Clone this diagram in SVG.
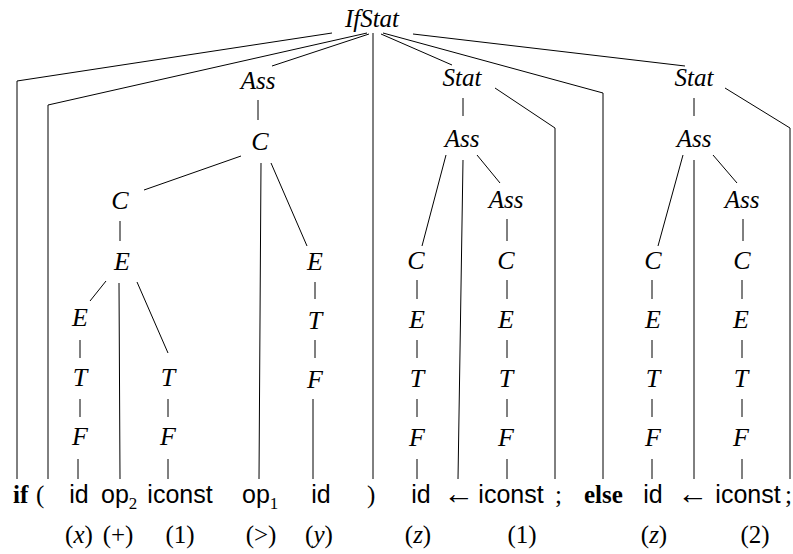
<svg xmlns="http://www.w3.org/2000/svg" width="793" height="554" viewBox="0 0 793 554">
<style>
.n{font-family:"Liberation Serif",serif;font-style:italic;font-size:25px;text-anchor:middle;fill:#000}
.m{font-family:"Liberation Serif",serif;font-style:italic;font-size:26px;text-anchor:middle;fill:#000}
.sf{font-family:"Liberation Sans",sans-serif;font-size:25px;text-anchor:middle;fill:#000}
.kw{font-family:"Liberation Serif",serif;font-weight:bold;font-size:25px;fill:#000}
.rm{font-family:"Liberation Serif",serif;font-size:25px;fill:#000}
.b{font-family:"Liberation Serif",serif;font-size:25px;text-anchor:middle;fill:#000}
.ar{font-family:"Liberation Serif",serif;font-size:31px;text-anchor:middle;fill:#000}
.i{font-style:italic}
.sub{font-family:"Liberation Serif",serif;font-size:17px}
.e{stroke:#000;stroke-width:1;fill:none}
</style>
<g id="connectors">
<polyline class="e" points="332,33 17,81 17,479"/>
<polyline class="e" points="367,33 48,105 48,479"/>
<line class="e" x1="369" y1="34" x2="272" y2="66"/>
<line class="e" x1="373" y1="33" x2="373" y2="479"/>
<line class="e" x1="381" y1="34" x2="452" y2="65"/>
<polyline class="e" points="383,33 603,93 603,479"/>
<line class="e" x1="413" y1="34" x2="685" y2="66"/>
<line class="e" x1="258" y1="100" x2="258" y2="120"/>
<line class="e" x1="241" y1="156" x2="144" y2="190"/>
<line class="e" x1="261" y1="163" x2="259" y2="479"/>
<line class="e" x1="271" y1="163" x2="307" y2="246"/>
<line class="e" x1="120" y1="221" x2="120" y2="241"/>
<line class="e" x1="106" y1="281" x2="90" y2="301"/>
<line class="e" x1="119" y1="283" x2="120" y2="479"/>
<line class="e" x1="137" y1="282" x2="168" y2="353"/>
<line class="e" x1="80" y1="340" x2="80" y2="358"/>
<line class="e" x1="80" y1="399" x2="80" y2="417"/>
<line class="e" x1="78" y1="459" x2="78" y2="479"/>
<line class="e" x1="168" y1="399" x2="168" y2="417"/>
<line class="e" x1="168" y1="459" x2="168" y2="479"/>
<line class="e" x1="315" y1="282" x2="315" y2="299"/>
<line class="e" x1="315" y1="340" x2="315" y2="358"/>
<line class="e" x1="313" y1="399" x2="313" y2="479"/>
<line class="e" x1="463" y1="98" x2="463" y2="116"/>
<polyline class="e" points="495,88 555,128 555,479"/>
<line class="e" x1="446" y1="155" x2="422" y2="246"/>
<line class="e" x1="463" y1="160" x2="458" y2="479"/>
<line class="e" x1="477" y1="155" x2="500" y2="183"/>
<line class="e" x1="507" y1="219" x2="507" y2="241"/>
<line class="e" x1="417" y1="280" x2="417" y2="299"/>
<line class="e" x1="417" y1="340" x2="417" y2="358"/>
<line class="e" x1="417" y1="399" x2="417" y2="417"/>
<line class="e" x1="417" y1="459" x2="417" y2="479"/>
<line class="e" x1="507" y1="280" x2="507" y2="299"/>
<line class="e" x1="507" y1="340" x2="507" y2="358"/>
<line class="e" x1="507" y1="399" x2="507" y2="417"/>
<line class="e" x1="507" y1="459" x2="507" y2="479"/>
<line class="e" x1="694" y1="98" x2="694" y2="116"/>
<polyline class="e" points="725,88 790,128 790,479"/>
<line class="e" x1="683" y1="155" x2="658" y2="246"/>
<line class="e" x1="694" y1="160" x2="694" y2="479"/>
<line class="e" x1="713" y1="155" x2="737" y2="183"/>
<line class="e" x1="743" y1="219" x2="743" y2="241"/>
<line class="e" x1="652" y1="280" x2="652" y2="299"/>
<line class="e" x1="652" y1="340" x2="652" y2="358"/>
<line class="e" x1="652" y1="399" x2="652" y2="417"/>
<line class="e" x1="652" y1="459" x2="652" y2="479"/>
<line class="e" x1="742" y1="280" x2="742" y2="299"/>
<line class="e" x1="742" y1="340" x2="742" y2="358"/>
<line class="e" x1="742" y1="399" x2="742" y2="417"/>
<line class="e" x1="742" y1="459" x2="742" y2="479"/>
</g>
<g id="ifstat"><text class="n" x="372" y="27">IfStat</text></g>
<g id="ass0"><text class="n" x="258" y="89">Ass</text></g>
<g id="c0"><text class="m" x="260" y="150">C</text></g>
<g id="c1"><text class="m" x="120" y="209">C</text></g>
<g id="e0"><text class="m" x="122" y="270">E</text></g>
<g id="e1"><text class="m" x="80" y="326">E</text></g>
<g id="t1"><text class="m" x="80" y="386">T</text></g>
<g id="f1"><text class="m" x="80" y="445">F</text></g>
<g id="t2"><text class="m" x="168" y="386">T</text></g>
<g id="f2"><text class="m" x="168" y="445">F</text></g>
<g id="e2"><text class="m" x="315" y="270">E</text></g>
<g id="t3"><text class="m" x="315" y="329">T</text></g>
<g id="f3"><text class="m" x="315" y="388">F</text></g>
<g id="stat1"><text class="n" x="462" y="86">Stat</text></g>
<g id="ass1"><text class="n" x="462" y="147">Ass</text></g>
<g id="ass1b"><text class="n" x="506" y="208">Ass</text></g>
<g id="c2"><text class="m" x="416" y="269">C</text></g>
<g id="e3"><text class="m" x="417" y="328">E</text></g>
<g id="t4"><text class="m" x="417" y="387">T</text></g>
<g id="f4"><text class="m" x="417" y="446">F</text></g>
<g id="c3"><text class="m" x="506" y="269">C</text></g>
<g id="e4"><text class="m" x="506" y="328">E</text></g>
<g id="t5"><text class="m" x="506" y="387">T</text></g>
<g id="f5"><text class="m" x="506" y="446">F</text></g>
<g id="stat2"><text class="n" x="694" y="86">Stat</text></g>
<g id="ass2"><text class="n" x="694" y="147">Ass</text></g>
<g id="ass2b"><text class="n" x="742" y="208">Ass</text></g>
<g id="c4"><text class="m" x="653" y="269">C</text></g>
<g id="e5"><text class="m" x="653" y="328">E</text></g>
<g id="t6"><text class="m" x="653" y="387">T</text></g>
<g id="f6"><text class="m" x="653" y="446">F</text></g>
<g id="c5"><text class="m" x="742" y="269">C</text></g>
<g id="e6"><text class="m" x="741" y="328">E</text></g>
<g id="t7"><text class="m" x="741" y="387">T</text></g>
<g id="f7"><text class="m" x="741" y="446">F</text></g>
<g id="leaves">
<text class="kw" x="13" y="503">if</text>
<text class="rm" x="36" y="503">(</text>
<text class="sf" x="79" y="503">id</text>
<text class="sf" x="101" y="503" style="text-anchor:start">op<tspan class="sub" dy="6">2</tspan></text>
<text class="sf" x="180" y="503">iconst</text>
<text class="sf" x="242" y="503" style="text-anchor:start">op<tspan class="sub" dy="6">1</tspan></text>
<text class="sf" x="321" y="503">id</text>
<text class="rm" x="367" y="503">)</text>
<text class="sf" x="421" y="503">id</text>
<text class="ar" x="459" y="504">←</text>
<text class="sf" x="511" y="503">iconst</text>
<text class="rm" x="555" y="503">;</text>
<text class="kw" x="584" y="503">else</text>
<text class="sf" x="653" y="503">id</text>
<text class="ar" x="693" y="504">←</text>
<text class="sf" x="748" y="503">iconst</text>
<text class="rm" x="785" y="503">;</text>
</g>
<g id="values">
<text class="b" x="79" y="543">(<tspan class="i">x</tspan>)</text>
<text class="b" x="118" y="543">(+)</text>
<text class="b" x="180" y="543">(1)</text>
<text class="b" x="261" y="543">(&gt;)</text>
<text class="b" x="319" y="543">(<tspan class="i">y</tspan>)</text>
<text class="b" x="418" y="543">(<tspan class="i">z</tspan>)</text>
<text class="b" x="522" y="543">(1)</text>
<text class="b" x="654" y="543">(<tspan class="i">z</tspan>)</text>
<text class="b" x="755" y="543">(2)</text>
</g>
</svg>
